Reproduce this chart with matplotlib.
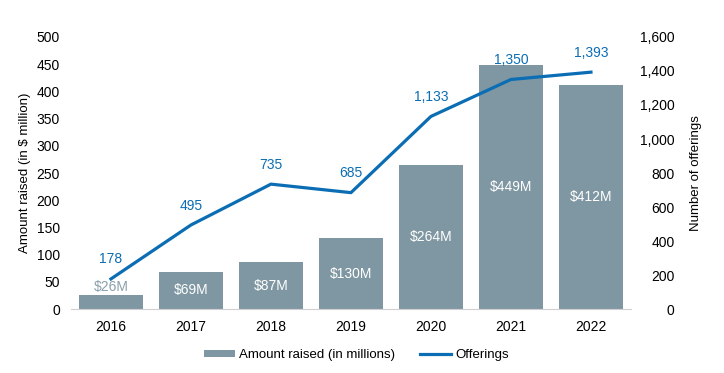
import matplotlib.pyplot as plt
import numpy as np

plt.rcParams['font.family'] = ['Liberation Sans', 'DejaVu Sans']

years = ['2016', '2017', '2018', '2019', '2020', '2021', '2022']
amount = [26, 69, 87, 130, 264, 449, 412]
offerings = [178, 495, 735, 685, 1133, 1350, 1393]
amount_labels = ['$26M', '$69M', '$87M', '$130M', '$264M', '$449M', '$412M']

bar_color = '#7f97a2'
line_color = '#0b6db3'
fs = 10

fig = plt.figure(figsize=(7.24, 3.73), dpi=100)
ax = fig.add_axes([0.098, 0.171, 0.7735, 0.73])
x = np.arange(len(years))

bars = ax.bar(x, amount, width=0.8, color=bar_color, label='Amount raised (in millions)', zorder=1)
ax.set_ylim(0, 500)
ax.set_xlim(-0.5, len(years) - 0.5)
ax.set_yticks(np.arange(0, 501, 50))
ax.set_xticks(x)
ax.set_xticklabels(years)
ax.set_ylabel('Amount raised (in $ million)', fontsize=9.5, labelpad=4)
ax.tick_params(length=0, labelsize=fs, pad=8)
for s in ['top', 'right', 'left']:
    ax.spines[s].set_visible(False)
ax.spines['bottom'].set_color('#d0d0d0')

# bar labels: centred in bar, small bar gets label above
for xi, v, lab in zip(x, amount, amount_labels):
    if v < 50:
        ax.annotate(lab, (xi, v), xytext=(0, 6), textcoords='offset points',
                    ha='center', va='center', color='#8a9fa9', fontsize=fs)
    else:
        ax.text(xi, v / 2, lab, ha='center', va='center', color='white', fontsize=fs)

ax2 = ax.twinx()
ax2.plot(x, offerings, color=line_color, linewidth=2.3, label='Offerings', zorder=3)
ax2.set_ylim(0, 1600)
ax2.set_yticks(np.arange(0, 1601, 200))
ax2.yaxis.set_major_formatter(plt.FuncFormatter(lambda v, p: f'{int(v):,}'))
ax2.set_ylabel('Number of offerings', fontsize=9.5, labelpad=11)
ax2.tick_params(length=0, labelsize=fs, pad=31.5)
for t in ax2.get_yticklabels():
    t.set_horizontalalignment('right')
for s in ['top', 'right', 'left', 'bottom']:
    ax2.spines[s].set_visible(False)
for xi, v in zip(x, offerings):
    ax2.annotate(f'{v:,}', (xi, v), xytext=(0, 14), textcoords='offset points',
                 ha='center', va='center', color=line_color, fontsize=fs)

h1, l1 = ax.get_legend_handles_labels()
h2, l2 = ax2.get_legend_handles_labels()
fig.legend(h1 + h2, l1 + l2, loc='center', bbox_to_anchor=(0.492, 0.048), ncol=2,
           frameon=False, fontsize=9.5, handlelength=2.35, handleheight=0.4,
           handletextpad=0.3, columnspacing=1.9)

fig.savefig('out.png', dpi=100)
